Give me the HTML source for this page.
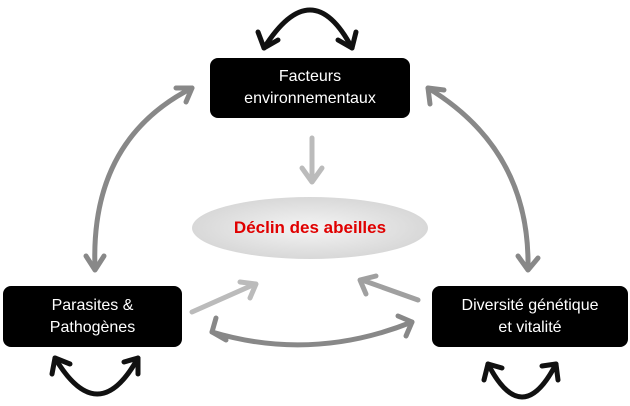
<!DOCTYPE html><html><head><style>body{margin:0;width:630px;height:406px;background:#fff;overflow:hidden;font-family:"Liberation Sans",sans-serif}
.b{position:absolute;background:#000;color:#fff;border-radius:8px;font-size:16px;text-align:center;display:flex;align-items:center;justify-content:center;line-height:22px}</style></head><body>
<svg width="630" height="406" style="position:absolute;left:0;top:0">
<defs>
<radialGradient id="g" cx="50%" cy="50%" r="50%"><stop offset="0" stop-color="#f4f4f4"/><stop offset="1" stop-color="#d8d8d8"/></radialGradient>
</defs>
<ellipse cx="310" cy="228" rx="118" ry="31" fill="url(#g)"/>
<g fill="none" stroke-linecap="round" stroke-linejoin="round">
<g stroke="#111" stroke-width="5">
<path d="M264 48 Q312 -28 352 48"/><path d="M258 32 L264 48 L278 40"/><path d="M338 40 L352 48 L356 32"/>
<path d="M55 358 Q98 430 138 358"/><path d="M52 374 L55 358 L70 364"/><path d="M124 362 L138 358 L138 374"/>
<path d="M488 364 Q522 430 556 364"/><path d="M484 380 L488 364 L502 368"/><path d="M542 366 L556 364 L558 380"/>
</g>
<g stroke="#888" stroke-width="5">
<path d="M95 268 Q90 140 192 88"/><path d="M86 256 L95 270 L104 256"/><path d="M176 88 L192 88 L186 102"/>
<path d="M428 88 Q530 150 528 268"/><path d="M430 104 L428 88 L444 90"/><path d="M518 256 L528 270 L538 258"/>
<path d="M212 332 Q312 362 412 322"/><path d="M216 318 L212 332 L226 340"/><path d="M398 316 L412 322 L406 336"/>
</g>
<g stroke="#bbb" stroke-width="5">
<path d="M312 138 L312 180"/><path d="M302 168 L312 182 L322 168"/>
<path d="M192 312 L255 284"/><path d="M240 282 L256 284 L250 298"/>
</g>
<g stroke="#a0a0a0" stroke-width="5">
<path d="M418 300 L362 280"/><path d="M366 294 L360 280 L376 276"/>
</g>
</g>
</svg>
<div style="position:absolute;left:192px;top:214px;width:236px;text-align:center;color:#e00000;font-weight:bold;font-size:17px;line-height:28px">Déclin des abeilles</div>
<div class="b" style="left:210px;top:58px;width:200px;height:60px">Facteurs<br>environnementaux</div>
<div class="b" style="left:3px;top:286px;width:179px;height:61px">Parasites &amp;<br>Pathogènes</div>
<div class="b" style="left:432px;top:286px;width:196px;height:61px">Diversité génétique<br>et vitalité</div>
</body></html>
